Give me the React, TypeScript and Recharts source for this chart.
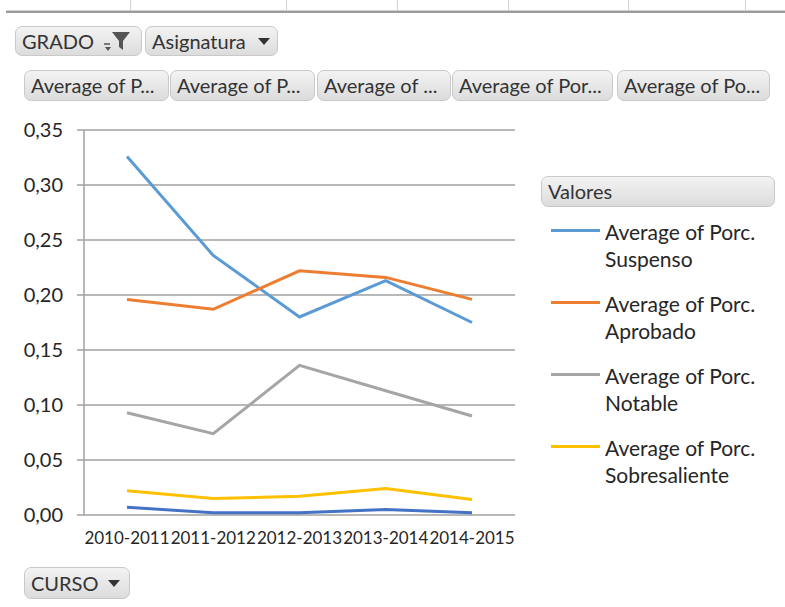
import React from 'react';
import { LineChart, Line, XAxis, YAxis, CartesianGrid, Legend } from 'recharts';

const categories = ['2010-2011', '2011-2012', '2012-2013', '2013-2014', '2014-2015'];
const suspenso = [0.326, 0.236, 0.18, 0.213, 0.175];
const aprobado = [0.196, 0.187, 0.222, 0.216, 0.196];
const notable = [0.093, 0.074, 0.136, 0.113, 0.09];
const sobresaliente = [0.022, 0.015, 0.017, 0.024, 0.014];
const matricula = [0.007, 0.002, 0.002, 0.005, 0.002];
const yTicks = [0, 0.05, 0.1, 0.15, 0.2, 0.25, 0.3, 0.35];
const boundaryTicks = [0, 1, 2, 3, 4, 5];

const seriesNames = [
  'Average of Porc. Suspenso',
  'Average of Porc. Aprobado',
  'Average of Porc. Notable',
  'Average of Porc. Sobresaliente',
  'Average of Porc. Matrícula de Honor',
];
const fieldButtons = ['Average of P...', 'Average of P...', 'Average of ...', 'Average of Por...', 'Average of Po...'];

const data = categories.map((c, i) => ({
  curso: c,
  s0: suspenso[i],
  s1: aprobado[i],
  s2: notable[i],
  s3: sobresaliente[i],
  s4: matricula[i],
}));

const FONT = 'Lato, "Noto Sans", sans-serif';
const TEXT = '#262626';
const GRID = '#a0a0a0';
const COLORS = ['#5B9BD5', '#ED7D31', '#A5A5A5', '#FFC000', '#4472C4'];

const btnStyle = (left: number, top: number, width: number, height: number): React.CSSProperties => ({
  position: 'absolute',
  left,
  top,
  width,
  height,
  boxSizing: 'border-box',
  border: '1px solid #c9c9c9',
  borderRadius: 7,
  background: 'linear-gradient(#f3f3f3, #dcdcdc)',
  fontFamily: FONT,
  fontSize: 20,
  color: '#333',
  lineHeight: `${height - 2}px`,
  paddingLeft: 6,
  whiteSpace: 'nowrap',
  overflow: 'hidden',
});

const Arrow = ({ left, top }: { left: number; top: number }) => (
  <svg style={{ position: 'absolute', left, top }} width={12} height={8}>
    <polygon points="0,0 12,0 6,7" fill="#333" />
  </svg>
);

const Funnel = ({ left, top }: { left: number; top: number }) => (
  <svg style={{ position: 'absolute', left, top }} width={30} height={22}>
    <polygon points="10,2 28,2 21,11 21,20 17,17 17,11" fill="#555" />
    <line x1={2} y1={14} x2={8} y2={14} stroke="#555" strokeWidth={1.5} />
    <polygon points="3,17 9,17 6,21" fill="#555" />
  </svg>
);

const fmt = (v: number) => v.toFixed(2).replace('.', ',');

const LegendContent = (props: any) => {
  const payload = (props.payload || [])
    .filter((p: any) => p.type !== 'none')
    .slice()
    .sort((a: any, b: any) => String(a.dataKey).localeCompare(String(b.dataKey)));
  return (
    <div style={{ position: 'relative', width: 236, height: 330, fontFamily: FONT }}>
      <div style={btnStyle(0, 0, 234, 31)}>Valores</div>
      {payload.map((p: any, i: number) => {
        const words = String(p.value).split(' ');
        const l1 = words.slice(0, 3).join(' ');
        const l2 = words.slice(3).join(' ');
        return (
          <div key={i} style={{ position: 'absolute', left: 0, top: 42 + i * 72, width: 236 }}>
            <div style={{ position: 'absolute', left: 10, top: 11, width: 49, height: 3, background: p.color }} />
            <div style={{ position: 'absolute', left: 64, top: 0, fontSize: 21, lineHeight: '27px', color: TEXT }}>
              <div>{l1}</div>
              <div>{l2}</div>
            </div>
          </div>
        );
      })}
    </div>
  );
};

export default function App() {
  return (
    <div style={{ position: 'absolute', left: 0, top: 0, width: 785, height: 607, background: '#fff', overflow: 'hidden' }}>
      {[130, 286, 397, 508, 628, 745].map((x) => (
        <div key={x} style={{ position: 'absolute', left: x, top: 0, width: 1, height: 10, background: '#d4d4d4' }} />
      ))}
      <div style={{ position: 'absolute', left: 6, top: 10, width: 779, height: 1, background: '#d0d0d0' }} />
      <div style={{ position: 'absolute', left: 6, top: 11, width: 779, height: 2, background: '#9c9c9c' }} />

      <div style={btnStyle(15, 26, 127, 30)}>GRADO</div>
      <Funnel left={102} top={30} />
      <div style={btnStyle(145, 26, 133, 30)}>Asignatura</div>
      <Arrow left={258} top={38} />

      {fieldButtons.map((t, i) => {
        const xs = [24, 170, 317, 452, 617];
        const ws = [145, 145, 134, 161, 153];
        return (
          <div key={i} style={btnStyle(xs[i], 70, ws[i], 31)}>
            {t}
          </div>
        );
      })}

      <div style={btnStyle(24, 567, 106, 32)}>CURSO</div>
      <Arrow left={108} top={580} />

      <div style={{ position: 'absolute', left: 0, top: 0 }}>
        <LineChart width={785} height={607} data={data} margin={{ top: 130, right: 30, bottom: 52, left: 0 }}>
          <CartesianGrid horizontal vertical={false} stroke={GRID} strokeWidth={1.5} />
          <XAxis
            xAxisId="bounds"
            type="number"
            domain={[0, 5]}
            ticks={boundaryTicks}
            tick={false}
            tickSize={6}
            height={0}
            axisLine={{ stroke: GRID, strokeWidth: 1.5 }}
            tickLine={{ stroke: GRID, strokeWidth: 1.5 }}
          />
          <XAxis
            xAxisId="cat"
            dataKey="curso"
            interval={0}
            padding={{ left: 43, right: 43 }}
            axisLine={false}
            tickLine={false}
            tickSize={0}
            tickMargin={17}
            height={40}
            tick={{ fill: TEXT, fontSize: 17, fontFamily: FONT }}
          />
          <YAxis
            width={84}
            domain={[0, 0.35]}
            ticks={yTicks}
            tickFormatter={fmt}
            tickSize={7}
            tickMargin={14}
            axisLine={{ stroke: GRID, strokeWidth: 1.5 }}
            tickLine={{ stroke: GRID, strokeWidth: 1.5 }}
            tick={{ fill: TEXT, fontSize: 20, fontFamily: FONT }}
          />
          <Legend
            layout="vertical"
            align="right"
            verticalAlign="top"
            width={240}
            content={<LegendContent />}
            wrapperStyle={{ left: 541, top: 176, width: 240 }}
          />
          {[0, 1, 2, 3, 4].map((i) => (
            <Line
              key={i}
              xAxisId="cat"
              type="linear"
              dataKey={`s${i}`}
              name={seriesNames[i]}
              stroke={COLORS[i]}
              strokeWidth={3}
              dot={false}
              activeDot={false}
              legendType={i === 4 ? 'none' : 'line'}
              isAnimationActive={false}
            />
          ))}
        </LineChart>
      </div>
    </div>
  );
}
